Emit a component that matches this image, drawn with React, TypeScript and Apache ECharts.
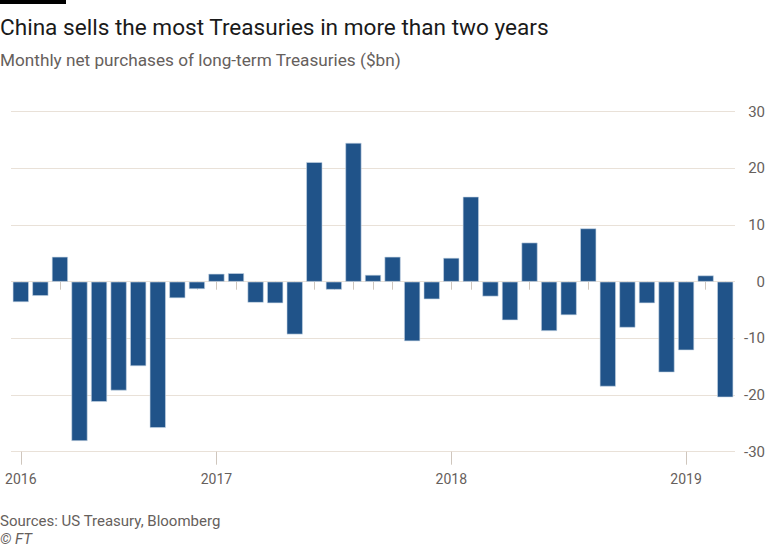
import React, { useEffect, useRef } from "react";
import * as echarts from "echarts";

const months: string[] = [
  "2016-03", "2016-04", "2016-05", "2016-06", "2016-07", "2016-08", "2016-09", "2016-10", "2016-11", "2016-12",
  "2017-01", "2017-02", "2017-03", "2017-04", "2017-05", "2017-06", "2017-07", "2017-08", "2017-09", "2017-10", "2017-11", "2017-12",
  "2018-01", "2018-02", "2018-03", "2018-04", "2018-05", "2018-06", "2018-07", "2018-08", "2018-09", "2018-10", "2018-11", "2018-12",
  "2019-01", "2019-02", "2019-03",
];

const netPurchases: number[] = [
  -3.6, -2.5, 4.4, -28.1, -21.2, -19.2, -14.9, -25.8, -2.9, -1.3,
  1.4, 1.5, -3.7, -3.8, -9.3, 21.1, -1.4, 24.5, 1.2, 4.4, -10.5, -3.1,
  4.2, 15.0, -2.6, -6.8, 6.9, -8.7, -5.9, 9.4, -18.5, -8.1, -3.8, -16.0,
  -12.1, 1.1, -20.4,
];

const yearLabels: Record<number, string> = { 0: "2016", 10: "2017", 22: "2018", 34: "2019" };

const yTicks = { min: -30, max: 30, interval: 10 };

export default function App() {
  const ref = useRef<HTMLDivElement>(null);
  useEffect(() => {
    if (!ref.current) return;
    const chart = echarts.init(ref.current, null, { renderer: "svg" });
    const font = "Roboto, 'Noto Sans', sans-serif";
    const grey = "#66605c";
    const gridCol = "#e9e1d8";
    chart.setOption({
      animation: false,
      backgroundColor: "#ffffff",
      textStyle: { fontFamily: font },
      graphic: [
        { type: "rect", left: 0, top: 0, shape: { width: 66, height: 4 }, style: { fill: "#000" } },
        { type: "text", left: 0, top: 16, style: { text: "China sells the most Treasuries in more than two years", fill: "#1a1a1a", font: `22.6px ${font}` } },
        { type: "text", left: 0, top: 51, style: { text: "Monthly net purchases of long-term Treasuries ($bn)", fill: grey, font: `17.2px ${font}` } },
        { type: "text", left: 0, top: 513, style: { text: "Sources: US Treasury, Bloomberg", fill: grey, font: `15px ${font}` } },
        { type: "text", left: 0, top: 531, style: { text: "© FT", fill: grey, font: `italic 15px ${font}` } },
      ],
      grid: { left: 11, right: 33, top: 111.7, bottom: 549 - 451.7, containLabel: false },
      xAxis: [
        {
          type: "category",
          data: months,
          boundaryGap: true,
          axisLine: { show: false },
          axisTick: { show: true, alignWithLabel: true, interval: 0, length: 8, lineStyle: { color: "#cfc6bd" } },
          axisLabel: {
            interval: 0,
            formatter: (_v: string, i: number) => yearLabels[i] ?? "",
            color: grey,
            fontSize: 14,
            margin: 20,
            fontFamily: font,
          },
          splitLine: { show: false },
        },
        {
          type: "category",
          data: months,
          position: "bottom",
          boundaryGap: true,
          axisLine: { show: false },
          axisTick: {
            show: true,
            alignWithLabel: true,
            interval: (i: number) => yearLabels[i] !== undefined,
            length: 13,
            lineStyle: { color: "#cfc6bd" },
          },
          axisLabel: { show: false },
          splitLine: { show: false },
        },
      ],
      yAxis: {
        type: "value",
        position: "right",
        min: yTicks.min,
        max: yTicks.max,
        interval: yTicks.interval,
        axisLine: { show: false },
        axisTick: { show: false },
        axisLabel: { color: grey, fontSize: 15, align: "right", margin: 30, fontFamily: font },
        splitLine: { show: true, lineStyle: { color: gridCol, width: 1 } },
      },
      series: [
        {
          type: "bar",
          xAxisIndex: 0,
          data: netPurchases,
          barCategoryGap: "18%",
          itemStyle: { color: "#205389", borderColor: "#c9d6e6", borderWidth: 0.6 },
        },
      ],
    });
    return () => chart.dispose();
  }, []);
  return <div ref={ref} style={{ width: 768, height: 549, position: "absolute", left: 0, top: 0 }} />;
}
